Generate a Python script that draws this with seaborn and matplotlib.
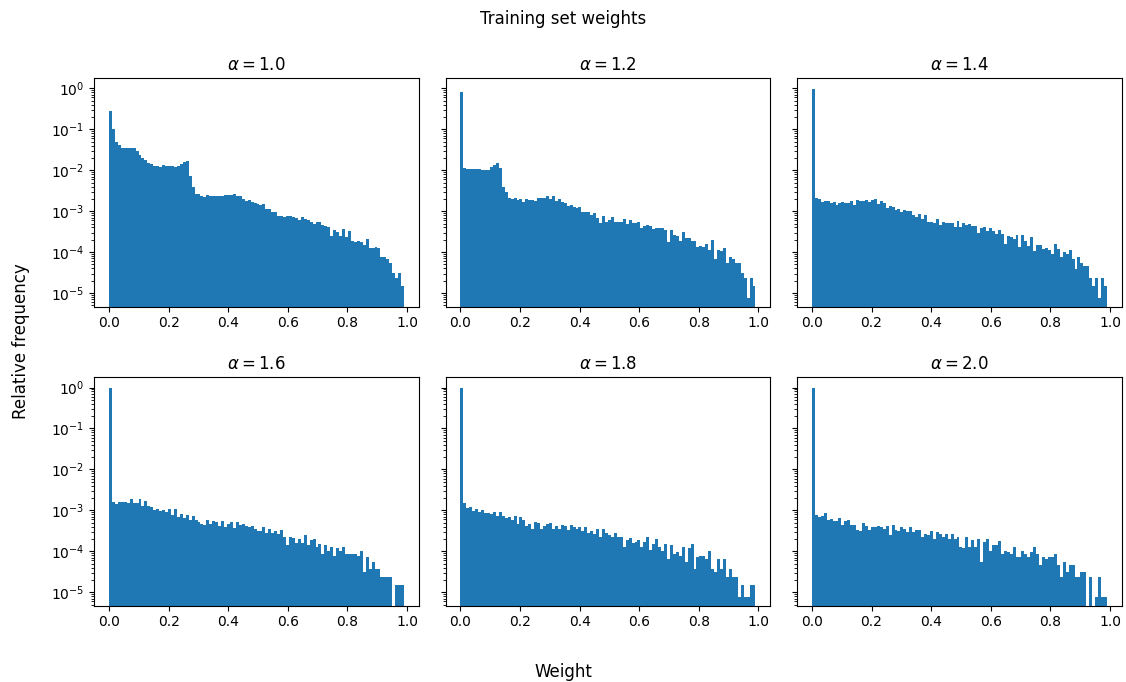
import numpy as np
import pandas as pd
import matplotlib
matplotlib.use("Agg")
import matplotlib.pyplot as plt
import seaborn as sns

# Tail exponents, one panel each
alphas = [1.0, 1.2, 1.4, 1.6, 1.8, 2.0]

# Relative frequency per weight bin (100 bins over [0, 0.99])
freq_a10 = [
    0.28, 0.10, 0.049, 0.041, 0.034, 0.034, 0.034, 0.034, 0.034, 0.029,
    0.024, 0.020, 0.018, 0.015, 0.014, 0.013, 0.013, 0.0123, 0.0138, 0.013,
    0.0126, 0.013, 0.0121, 0.0128, 0.0146, 0.0157, 0.0172, 0.0074, 0.0038, 0.0026,
    0.0027, 0.0024, 0.0022, 0.0025, 0.0023, 0.0023, 0.0023, 0.0023, 0.0023, 0.0025,
    0.0025, 0.0025, 0.0027, 0.0024, 0.0024, 0.0020, 0.0018, 0.0019, 0.0017, 0.0016,
    0.0015, 0.0014, 0.0015, 0.0011, 0.0011, 0.00096, 0.00096, 0.00077, 0.00077, 0.00073,
    0.00077, 0.00077, 0.00071, 0.00069, 0.00062, 0.00073, 0.00064, 0.00060, 0.00055, 0.00050,
    0.00053, 0.00055, 0.00046, 0.00043, 0.00041, 0.00025, 0.00035, 0.00031, 0.00025, 0.00037,
    0.00024, 0.00032, 0.00019, 0.00018, 0.00019, 0.00018, 0.00015, 0.00021, 0.000125, 0.000125,
    0.00013, 0.000125, 7.5e-5, 7.5e-5, 6.7e-5, 5.4e-5, 3.1e-5, 2.3e-5, 3.1e-5, 1.5e-5,
]
freq_a12 = [
    0.80, 0.0116, 0.011, 0.011, 0.011, 0.011, 0.011, 0.010, 0.0104, 0.0104,
    0.0123, 0.0138, 0.0154, 0.0116, 0.0040, 0.0030, 0.0021, 0.0020, 0.0021, 0.0019,
    0.0020, 0.0017, 0.0020, 0.0019, 0.0019, 0.0018, 0.0021, 0.0021, 0.0021, 0.0023,
    0.0020, 0.0023, 0.0018, 0.0020, 0.0017, 0.0016, 0.00136, 0.00142, 0.00128, 0.00118,
    0.00126, 0.00093, 0.00096, 0.00096, 0.00081, 0.00092, 0.00069, 0.00051, 0.00077, 0.00055,
    0.00062, 0.00073, 0.00055, 0.00055, 0.00055, 0.00065, 0.00049, 0.00062, 0.00051, 0.00051,
    0.00055, 0.00039, 0.00044, 0.00046, 0.00044, 0.00037, 0.00039, 0.00039, 0.00039, 0.00035,
    0.00018, 0.00035, 0.00026, 0.00025, 0.00019, 0.00031, 0.00022, 0.00022, 0.00019, 0.00019,
    0.00013, 0.00014, 0.00013, 0.00016, 0.00011, 0.00020, 6.7e-5, 0.00011, 0.000106, 0.000125,
    5.4e-5, 7.5e-5, 6.7e-5, 5.4e-5, 5.4e-5, 3.1e-5, 2.3e-5, 7.6e-6, 2.3e-5, 1.5e-5,
]
freq_a14 = [
    0.945, 0.0021, 0.0020, 0.0017, 0.0018, 0.0018, 0.0016, 0.0017, 0.0014, 0.0016,
    0.0017, 0.0016, 0.0016, 0.0018, 0.0014, 0.0019, 0.0018, 0.0018, 0.0019, 0.0017,
    0.0019, 0.0020, 0.0015, 0.0018, 0.0016, 0.0012, 0.00136, 0.00128, 0.00109, 0.00114,
    0.00096, 0.00109, 0.00101, 0.00101, 0.00081, 0.00073, 0.00085, 0.00065, 0.00081, 0.00055,
    0.00055, 0.00051, 0.00065, 0.00047, 0.00055, 0.00051, 0.00051, 0.00051, 0.00041, 0.00058,
    0.00041, 0.00051, 0.00046, 0.00049, 0.00044, 0.00044, 0.00029, 0.00039, 0.00041, 0.00033,
    0.00039, 0.00033, 0.00028, 0.00035, 0.00028, 0.00016, 0.00025, 0.00023, 0.00021, 0.00026,
    0.00013, 0.00026, 0.00019, 0.00014, 0.00023, 0.000106, 0.00015, 0.00015, 0.000118, 0.000125,
    0.000112, 8.9e-5, 0.00016, 0.000118, 7.5e-5, 0.0001, 8.9e-5, 0.000112, 6.7e-5, 3.8e-5,
    7.5e-5, 5.4e-5, 4.6e-5, 4.6e-5, 2.3e-5, 1.5e-5, 2.3e-5, 7.6e-6, 2.3e-5, 1.5e-5,
]
freq_a16 = [
    0.97, 0.0016, 0.0014, 0.0016, 0.0016, 0.0016, 0.0015, 0.0019, 0.0015, 0.0015,
    0.0019, 0.0013, 0.0017, 0.0013, 0.0012, 0.00101, 0.00109, 0.00096, 0.00101, 0.00092,
    0.00109, 0.00077, 0.00109, 0.00069, 0.00081, 0.00065, 0.00077, 0.00058, 0.00073, 0.00058,
    0.00051, 0.00046, 0.00044, 0.00058, 0.00046, 0.00055, 0.00051, 0.00041, 0.00055, 0.00039,
    0.00046, 0.00051, 0.00037, 0.00051, 0.00044, 0.00046, 0.00041, 0.00039, 0.00041, 0.00035,
    0.00031, 0.00031, 0.00039, 0.00028, 0.00035, 0.00028, 0.00031, 0.00026, 0.00033, 0.00023,
    0.00014, 0.00022, 0.00021, 0.00016, 0.00020, 0.00016, 0.00025, 0.00014, 0.00019, 0.00020,
    0.000125, 0.00015, 8.4e-5, 0.00014, 0.0001, 0.000125, 7.5e-5, 0.000118, 0.0001, 0.00013,
    8.4e-5, 8.4e-5, 8.4e-5, 8.4e-5, 7.5e-5, 0.0001, 3.1e-5, 7.1e-5, 3.8e-5, 5.4e-5,
    3.8e-5, 3.8e-5, 2.3e-5, 2.3e-5, 2.3e-5, 2.3e-5, 0.0, 1.5e-5, 1.5e-5, 1.5e-5,
]
freq_a18 = [
    0.97, 0.0015, 0.00114, 0.0012, 0.00096, 0.00109, 0.00092, 0.00101, 0.00085, 0.00085,
    0.00081, 0.00092, 0.00073, 0.00092, 0.00073, 0.00065, 0.00069, 0.00058, 0.00073, 0.00046,
    0.00069, 0.00058, 0.00041, 0.00046, 0.00035, 0.00051, 0.00049, 0.00035, 0.00041, 0.00046,
    0.00049, 0.00035, 0.00041, 0.00035, 0.00044, 0.00041, 0.00033, 0.00044, 0.00039, 0.00035,
    0.00039, 0.00031, 0.00039, 0.00028, 0.00031, 0.00026, 0.00035, 0.00022, 0.00035, 0.00028,
    0.00025, 0.00023, 0.00028, 0.00022, 0.00023, 0.00013, 0.00019, 0.00021, 0.00016, 0.00017,
    0.00019, 0.000125, 0.00017, 0.00022, 0.000106, 0.00015, 0.00020, 0.00013, 0.0001, 0.00015,
    6.4e-5, 0.00014, 8.4e-5, 9.5e-5, 7.5e-5, 0.00013, 5.4e-5, 0.000118, 0.00015, 3.8e-5,
    7.1e-5, 7.5e-5, 7.5e-5, 6.4e-5, 0.0001, 3.8e-5, 3.1e-5, 6.4e-5, 3.8e-5, 6.4e-5,
    2.3e-5, 3.8e-5, 2.3e-5, 2.3e-5, 7.6e-6, 1.5e-5, 7.6e-6, 7.6e-6, 1.5e-5, 1.5e-5,
]
freq_a20 = [
    0.965, 0.00077, 0.00069, 0.00073, 0.00085, 0.00058, 0.00062, 0.00055, 0.00055, 0.00065,
    0.00044, 0.00055, 0.00058, 0.00044, 0.00044, 0.00033, 0.00031, 0.00049, 0.00041, 0.00033,
    0.00039, 0.00039, 0.00041, 0.00039, 0.00035, 0.00041, 0.00025, 0.00044, 0.00033, 0.00031,
    0.00039, 0.00035, 0.00029, 0.00039, 0.00029, 0.00033, 0.00033, 0.00023, 0.00026, 0.00025,
    0.00031, 0.00020, 0.00029, 0.00026, 0.00022, 0.00026, 0.00020, 0.00026, 0.00020, 0.00022,
    0.00013, 0.000118, 0.00022, 0.00013, 0.00019, 0.000125, 0.00020, 5.4e-5, 0.00017, 0.00020,
    0.0001, 0.00014, 0.00014, 0.00018, 8.4e-5, 0.0001, 9.5e-5, 8.4e-5, 0.000125, 7.1e-5,
    7.1e-5, 0.0001, 8.4e-5, 7.1e-5, 9.5e-5, 0.000125, 8.4e-5, 4.6e-5, 7.1e-5, 6.4e-5,
    7.1e-5, 7.1e-5, 8.4e-5, 4.6e-5, 2.3e-5, 5.4e-5, 3.1e-5, 4.6e-5, 4.6e-5, 2.3e-5,
    2.3e-5, 3.1e-5, 3.1e-5, 0.0, 2.3e-5, 0.0, 7.6e-6, 2.3e-5, 7.6e-6, 7.6e-6,
]
freqs = [freq_a10, freq_a12, freq_a14, freq_a16, freq_a18, freq_a20]

# Weight bins
edges = np.linspace(0.0, 0.99, 101)
centers = 0.5 * (edges[:-1] + edges[1:])

fig, axes = plt.subplots(2, 3, figsize=(11.26, 6.82), dpi=100, sharey=True)
fig.subplots_adjust(left=0.0837, right=0.9962, top=0.8852, bottom=0.1119,
                    wspace=0.083, hspace=0.311)

for ax, a, f in zip(axes.flat, alphas, freqs):
    df = pd.DataFrame({"weight": centers, "freq": f})
    sns.histplot(data=df, x="weight", weights="freq", bins=edges.tolist(), ax=ax,
                 color="#1f77b4", alpha=1.0, linewidth=0, element="bars")
    ax.set_yscale("log")
    ax.set_title(rf"$\alpha = {a:.1f}$", fontsize=12)
    ax.set_xlabel("")
    ax.set_ylabel("")
    ax.set_xticks([0.0, 0.2, 0.4, 0.6, 0.8, 1.0])

axes[0, 0].set_ylim(4.7e-6, 1.76)

fig.suptitle("Training set weights", fontsize=12, y=0.972, va="center")
fig.supxlabel("Weight", fontsize=12, y=0.015, va="center")
fig.supylabel("Relative frequency", fontsize=12, x=0.019, ha="center", va="center")

fig.savefig("out.png", dpi=100)
